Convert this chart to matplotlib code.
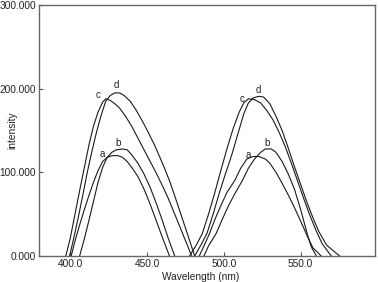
import matplotlib
matplotlib.use("Agg")
import matplotlib.pyplot as plt
from matplotlib.ticker import FormatStrFormatter

plt.rcParams['font.family'] = ['Liberation Sans', 'DejaVu Sans']

# curve data: (wavelength, intensity)
a1_x = [400.5, 403, 406, 409, 412, 415, 418, 421, 424, 427, 431, 434, 437, 440, 444, 448, 452, 456, 460, 464.6]
a1_y = [0, 18, 37, 55, 72, 88, 102, 113, 118, 120, 120, 118, 113, 106, 95, 80, 62, 42, 22, 0]
b1_x = [406, 409, 412, 415, 418, 421, 424, 427, 430, 434, 437, 440, 444, 448, 452, 456, 460, 464, 468]
b1_y = [0, 20, 42, 65, 88, 106, 118, 124, 127, 128, 127, 121, 111, 98, 82, 63, 42, 20, 0]
c1_x = [397, 400, 403, 406, 409, 412, 415, 418, 421, 423, 426, 429, 432, 436, 440, 444, 448, 452, 456, 460, 464, 468, 472, 476, 479]
c1_y = [0, 22, 50, 78, 105, 132, 155, 172, 184, 188, 186, 182, 177, 167, 155, 141, 127, 113, 99, 84, 68, 50, 32, 14, 0]
d1_x = [399.5, 402, 405, 408, 411, 414, 417, 420, 423, 426, 429, 432, 435, 439, 443, 447, 451, 455, 460, 464.6, 468, 472, 476, 481]
d1_y = [0, 20, 45, 72, 100, 125, 148, 168, 185, 192, 195, 195, 192, 185, 174, 161, 147, 132, 111, 90, 72, 50, 28, 0]

a2_x = [484, 487, 490.7, 494, 498, 502, 507, 511, 515, 519, 523, 527, 530, 534, 538, 542, 546, 550, 554.6, 558, 563.5]
a2_y = [0, 12, 27, 43, 60, 76, 90, 105, 116, 119, 119, 116, 111, 100, 87, 73, 58, 42, 23, 10, 0]
b2_x = [487, 490, 495, 499, 503, 507, 512, 516, 520, 524, 527, 531, 534, 538, 542, 546, 550, 554.6, 557, 560.3]
b2_y = [0, 12, 27, 44, 60, 74, 90, 105, 116, 124, 128, 128, 124, 113, 98, 80, 56, 25, 11, 0]
c2_x = [477.6, 482, 486, 490, 494, 498, 502, 506, 510, 513, 516, 520, 524, 528, 532, 536, 540, 544, 548, 552, 556, 560, 564, 570]
c2_y = [0, 13, 27, 50, 75, 102, 128, 152, 172, 183, 188, 187, 183, 174, 163, 148, 131, 111, 90, 69, 49, 31, 15, 0]
d2_x = [481, 485, 489, 493, 497, 501, 505, 509, 513, 516, 519, 523, 526, 530, 534, 538, 542, 546, 550, 554, 558, 562, 567, 575.5]
d2_y = [0, 13, 27, 50, 75, 98, 120, 145, 170, 183, 189, 191, 190, 182, 167, 150, 129, 107, 86, 65, 46, 29, 13, 0]

x_ticks = [400, 450, 500, 550]
y_ticks = [0, 100, 200, 300]

fig = plt.figure(figsize=(3.78, 2.82), dpi=100)
ax = fig.add_axes([0.103, 0.092, 0.889, 0.890])

for xs, ys in [(a1_x, a1_y), (b1_x, b1_y), (c1_x, c1_y), (d1_x, d1_y),
               (a2_x, a2_y), (b2_x, b2_y), (c2_x, c2_y), (d2_x, d2_y)]:
    ax.plot(xs, ys, color='#1a1a1a', lw=0.8)

# curve letters
for name, (lx, ly) in [('a', (421, 122)), ('b', (431.3, 135)), ('c', (418.3, 193)), ('d', (429.8, 204)),
                       ('a', (515.7, 121)), ('b', (528, 135)), ('c', (511.8, 188)), ('d', (522.6, 199))]:
    ax.text(lx, ly, name, fontsize=7, ha='center', va='center', color='#222222')

ax.set_xlim(379.5, 598.5)
ax.set_ylim(0, 300)
ax.set_xticks(x_ticks)
ax.set_yticks(y_ticks)
ax.xaxis.set_major_formatter(FormatStrFormatter('%.1f'))
ax.yaxis.set_major_formatter(FormatStrFormatter('%.3f'))
ax.tick_params(direction='in', length=3, width=0.8, labelsize=7.3, color='#555555', labelcolor='#222222', pad=2)

for s in ax.spines.values():
    s.set_color('#666666')
    s.set_linewidth(1.0)

ax.set_xlabel('Wavelength (nm)', fontsize=7.3, color='#222222', labelpad=2)
ax.set_ylabel('intensity', fontsize=7.3, color='#222222', labelpad=2)
ax.xaxis.set_label_coords(0.48, -0.065)
ax.yaxis.set_label_coords(-0.065, 0.5)

fig.savefig('out.png', dpi=100)
